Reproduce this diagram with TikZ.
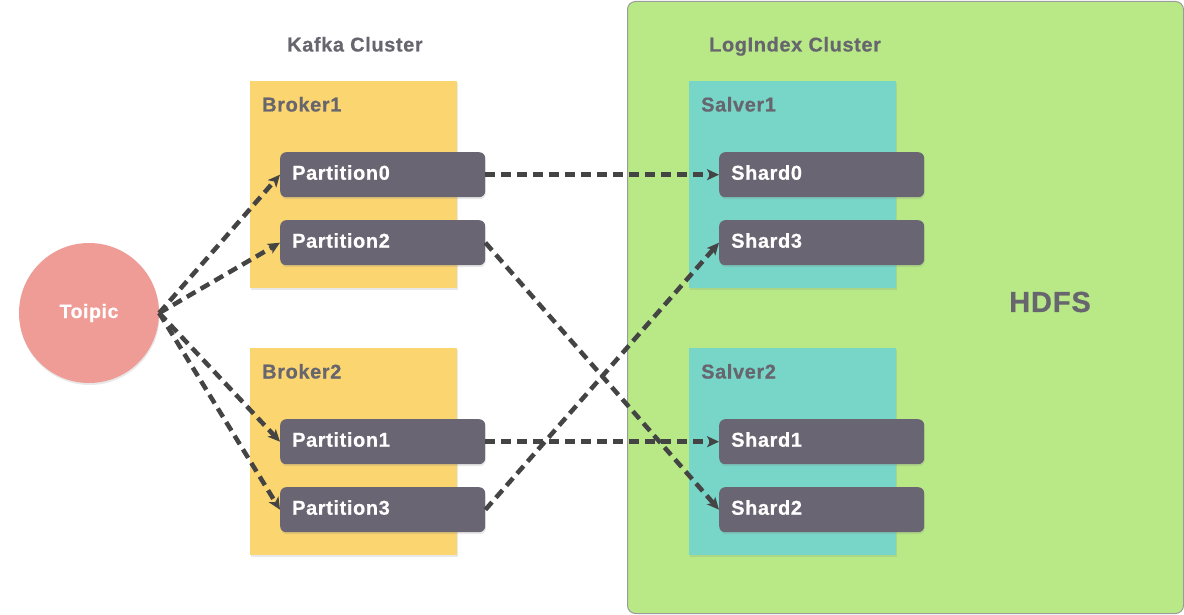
\documentclass[tikz,border=0pt]{standalone}
\usepackage{fontspec}
\setmainfont{Liberation Sans}[LetterSpace=3,FakeBold=0.6]
\usetikzlibrary{arrows.meta,shadows}
\definecolor{yellowc}{HTML}{FBD570}
\definecolor{partc}{HTML}{696572}
\definecolor{tealc}{HTML}{78D6C8}
\definecolor{greenc}{HTML}{B8E986}
\definecolor{circc}{HTML}{EF9B96}
\definecolor{headc}{HTML}{67666F}
\definecolor{arrowc}{HTML}{444444}
\definecolor{borderc}{HTML}{9B9B9B}
\tikzset{
  sh/.style={drop shadow={shadow xshift=0.6pt, shadow yshift=-2pt, opacity=0.18}},
  clusterbox/.style={draw=borderc, fill=greenc, line width=1pt, rounded corners=8pt},
  brokerbox/.style={fill=yellowc, sh, minimum width=207pt, minimum height=207pt, inner sep=0pt, anchor=north west},
  salverbox/.style={fill=tealc, sh, minimum width=207pt, minimum height=207pt, inner sep=0pt, anchor=north west},
  partbox/.style={fill=partc, rounded corners=6pt, sh, minimum width=205pt, minimum height=45pt,
    text width=181pt, inner xsep=12pt, inner ysep=0pt, text height=10pt, text depth=0pt,
    font=\fontsize{20}{24}\selectfont\bfseries, text=white, align=left, anchor=north west},
  headlabel/.style={font=\fontsize{20}{24}\selectfont\bfseries, text=headc, inner sep=0pt, anchor=base west},
  flow/.style={draw=arrowc, line width=4.5pt, dash pattern=on 10pt off 6pt,
    -{Stealth[length=12pt,width=11pt,inset=3pt]}}
}
\begin{document}
\begin{tikzpicture}[x=1pt,y=-1pt]
\useasboundingbox (0,0) rectangle (1184,615);
\fill[white] (0,0) rectangle (1184,615);

% LogIndex cluster background
\node[clusterbox, minimum width=556pt, minimum height=612pt, inner sep=0pt, anchor=north west] (logcluster) at (627,1) {};

% titles
\node[headlabel] (kafkatitle) at (287,51.5) {Kafka Cluster};
\node[headlabel] (logtitle) at (709,51.5) {LogIndex Cluster};
\node[font=\fontsize{29}{34}\selectfont\bfseries, text=headc, inner sep=0pt] (hdfs) at (1050,302) {HDFS};

% brokers and salvers
\node[brokerbox] (broker1) at (250,81) {};
\node[brokerbox] (broker2) at (250,348) {};
\node[salverbox] (salver1) at (689,81) {};
\node[salverbox] (salver2) at (689,348) {};
\node[headlabel] (b1lab) at (262,111.5) {Broker1};
\node[headlabel] (b2lab) at (262,378.5) {Broker2};
\node[headlabel] (s1lab) at (701,111.5) {Salver1};
\node[headlabel] (s2lab) at (701,378.5) {Salver2};

% partitions
\node[partbox] (p0) at (280,152) {Partition0};
\node[partbox] (p2) at (280,220) {Partition2};
\node[partbox] (p1) at (280,419) {Partition1};
\node[partbox] (p3) at (280,487) {Partition3};

% shards
\node[partbox] (s0) at (719,152) {Shard0};
\node[partbox] (s3) at (719,220) {Shard3};
\node[partbox] (s1) at (719,419) {Shard1};
\node[partbox] (s2) at (719,487) {Shard2};

% topic
\node[circle, fill=circc, sh, minimum size=140pt, inner sep=0pt, text height=10pt, text depth=0pt,
  font=\fontsize{19.5}{24}\selectfont\bfseries, text=white] (topic) at (89,313) {Toipic};

% connectors
\draw[flow] (topic.east) -- (p0.west);
\draw[flow] (topic.east) -- (p2.west);
\draw[flow] (topic.east) -- (p1.west);
\draw[flow] (topic.east) -- (p3.west);
\draw[flow] (p0.east) -- (s0.west);
\draw[flow] (p2.east) -- (s2.west);
\draw[flow] (p1.east) -- (s1.west);
\draw[flow] (p3.east) -- (s3.west);
\end{tikzpicture}
\end{document}
